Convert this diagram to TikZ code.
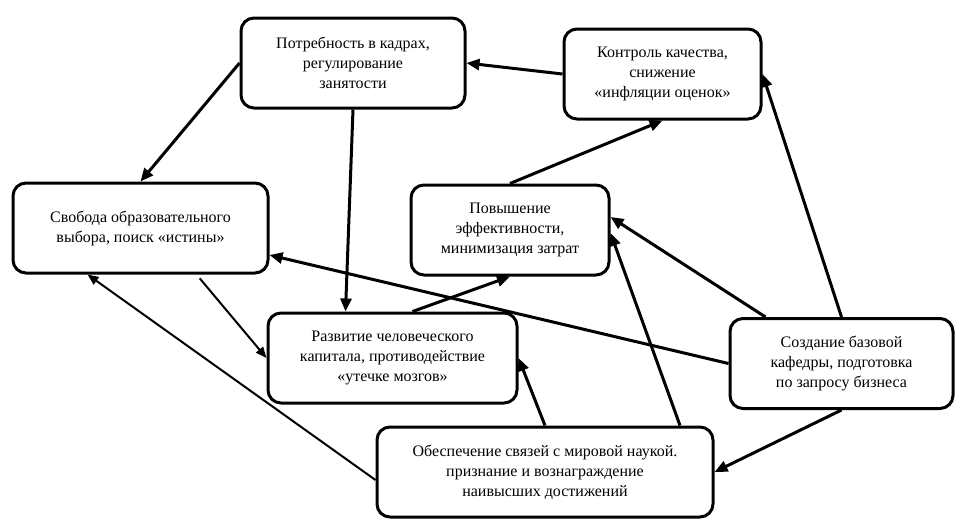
\documentclass[tikz,border=0pt]{standalone}
\usepackage{fontspec}
\setmainfont{Liberation Serif}
\usetikzlibrary{positioning}
\usetikzlibrary{arrows.meta}

\begin{document}
\begin{tikzpicture}[x=1pt,y=1pt,
    basic/.style={draw,line width=3pt,rounded corners=13pt,align=center,inner sep=0pt,minimum height=90pt,font=\fontsize{16}{20}\selectfont},
    link/.style={line width=3pt,-{Triangle[length=13pt,width=11pt]}},
    thinlink/.style={line width=2pt,-{Triangle[length=11pt,width=9pt]}},
]
\useasboundingbox (0,0) rectangle (960,-531);
        % upper row
        \node[basic,minimum width=224pt] (need) at (353,-63) {Потребность в кадрах,\\регулирование\\занятости};
        \node[basic,minimum width=197pt,right=96pt of need,yshift=-11pt] (control) {Контроль качества,\\снижение\\«инфляции оценок»};
        % middle row
        \node[basic,minimum width=255pt] (freedom) at (140.5,-228) {Свобода образовательного\\выбора, поиск «истины»};
        \node[basic,minimum width=198pt,right=140pt of freedom,yshift=-2pt] (effic) {Повышение\\эффективности,\\минимизация затрат};
        % lower rows
        \node[basic,minimum width=249pt] (human) at (392.5,-358) {Развитие человеческого\\капитала, противодействие\\«утечке мозгов»};
        \node[basic,minimum width=223pt] (base) at (841.5,-363.5) {Создание базовой\\кафедры, подготовка\\по запросу бизнеса};
        \node[basic,minimum width=336pt] (science) at (545,-472) {Обеспечение связей с мировой наукой.\\признание и вознаграждение\\наивысших достижений};
            \path[draw,link] (need.west) -- (freedom.north);
            \path[draw,link] (need.south) -- ([xshift=-47pt]human.north);
            \path[draw,link] (control.west) -- (need.east);
            \path[draw,link] (effic.north) -- (control.south);
            \path[draw,link] ([xshift=20pt]human.north) -- (effic.south);
            \path[draw,thinlink,shorten <=5pt] ([xshift=56pt]freedom.south) -- (human.west);
            \path[draw,link] (base.west) -- ([yshift=-27pt]freedom.east);
            \path[draw,link] ([xshift=-76pt]base.north) -- ([yshift=13pt]effic.east);
            \path[draw,link] (base.north) -- (control.east);
            \path[draw,link] (base.south) -- (science.east);
            \path[draw,link] ([xshift=135pt]science.north) -- ([yshift=-3pt]effic.east);
            \path[draw,link] (science.north) -- (human.east);
            \path[draw,thinlink] ([yshift=-8pt]science.west) -- ([xshift=-53pt]freedom.south);
\end{tikzpicture}
\end{document}
